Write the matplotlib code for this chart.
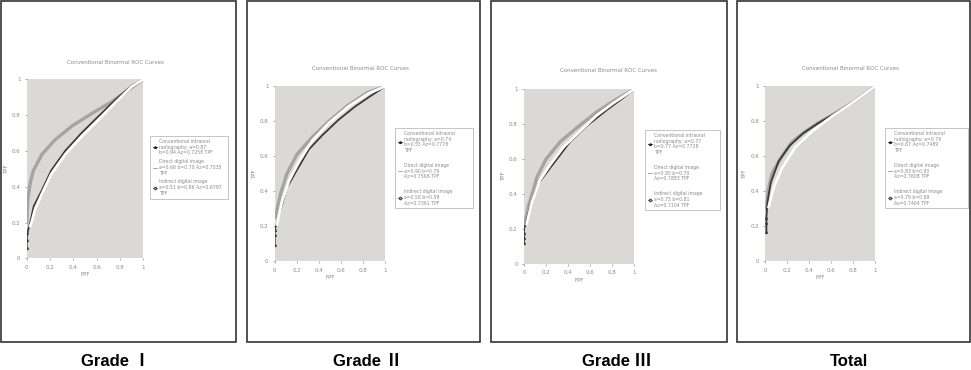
import numpy as np
import matplotlib
matplotlib.use("Agg")
import matplotlib.pyplot as plt
from matplotlib.patches import Rectangle

W, H = 971, 370

PANEL_NAMES = ["Grade Ⅰ", "Grade Ⅱ", "Grade Ⅲ", "Total"]

# legend texts
LEG_G1 = ["Conventional intraoral\nradiography: a=0.87\nb=0.94 Az=0.7258 TPF",
          "Direct digital image\na=0.66 b=0.70 Az=0.7535\nTPF",
          "Indirect digital image\na=0.51 b=0.86 Az=0.6797\nTPF"]
LEG_G2 = ["Conventional intraoral\nradiography: a=0.74\nb=0.55 Az=0.7778\nTPF",
          "Direct digital image\na=0.90 b=0.79\nAz=0.7568 TPF",
          "Indirect digital image\na=0.58 b=0.59\nAz=0.7361 TPF"]
LEG_G3 = ["Conventional intraoral\nradiography: a=0.77\nb=0.77 Az=0.7728\nTPF",
          "Direct digital image\na=0.80 b=0.70\nAz=0.7883 TPF",
          "Indirect digital image\na=0.75 b=0.81\nAz=0.7104 TPF"]
LEG_T = ["Conventional intraoral\nradiography: a=0.79\nb=0.67 Az=0.7489\nTPF",
         "Direct digital image\na=0.83 b=0.80\nAz=0.7608 TPF",
         "Indirect digital image\na=0.79 b=0.69\nAz=0.7464 TPF"]

# curve points (FPF, TPF)
G1_CONV_X = [0.0, 0.0, 0.005, 0.03, 0.06, 0.13, 0.21, 0.33, 0.47, 0.61, 0.76, 0.90, 1.0]
G1_CONV_Y = [0.06, 0.10, 0.14, 0.20, 0.29, 0.38, 0.49, 0.60, 0.70, 0.79, 0.885, 0.965, 1.0]
G1_DIR_X = [0.0, 0.01, 0.03, 0.057, 0.13, 0.24, 0.39, 0.56, 0.73, 0.87, 1.0]
G1_DIR_Y = [0.20, 0.33, 0.42, 0.49, 0.58, 0.66, 0.74, 0.81, 0.875, 0.94, 1.0]
G1_IND_X = [0.03, 0.043, 0.07, 0.13, 0.21, 0.33, 0.47, 0.61, 0.76, 0.90, 1.0]
G1_IND_Y = [0.18, 0.205, 0.27, 0.36, 0.47, 0.58, 0.68, 0.77, 0.87, 0.96, 1.0]

G2_CONV_X = [0.0, 0.0, 0.0, 0.02, 0.06, 0.11, 0.19, 0.31, 0.43, 0.58, 0.73, 0.88, 1.0]
G2_CONV_Y = [0.095, 0.15, 0.18, 0.22, 0.31, 0.42, 0.51, 0.64, 0.72, 0.81, 0.886, 0.95, 1.0]
G2_DIR_X = [0.006, 0.05, 0.11, 0.20, 0.34, 0.49, 0.66, 0.84, 1.0]
G2_DIR_Y = [0.25, 0.38, 0.50, 0.61, 0.71, 0.80, 0.89, 0.965, 1.0]
G2_IND_X = [0.02, 0.066, 0.13, 0.22, 0.34, 0.49, 0.67, 0.85, 1.0]
G2_IND_Y = [0.21, 0.34, 0.46, 0.57, 0.69, 0.79, 0.886, 0.96, 1.0]

G3_CONV_X = [0.0, 0.0, 0.0, 0.0, 0.02, 0.06, 0.13, 0.25, 0.42, 0.57, 0.75, 0.90, 1.0]
G3_CONV_Y = [0.12, 0.15, 0.18, 0.20, 0.24, 0.34, 0.46, 0.56, 0.70, 0.79, 0.88, 0.95, 1.0]
G3_DIR_X = [0.01, 0.04, 0.12, 0.20, 0.33, 0.48, 0.66, 0.83, 1.0]
G3_DIR_Y = [0.24, 0.33, 0.50, 0.60, 0.70, 0.78, 0.87, 0.94, 1.0]
G3_IND_X = [0.024, 0.07, 0.145, 0.24, 0.36, 0.51, 0.66, 0.81, 1.0]
G3_IND_Y = [0.23, 0.35, 0.48, 0.57, 0.67, 0.76, 0.85, 0.92, 1.0]

T_CONV_X = [0.01, 0.01, 0.01, 0.02, 0.05, 0.12, 0.22, 0.34, 0.47, 0.62, 0.80, 1.0]
T_CONV_Y = [0.17, 0.22, 0.25, 0.34, 0.45, 0.57, 0.66, 0.73, 0.785, 0.84, 0.91, 1.0]
T_DIR_X = [0.01, 0.024, 0.06, 0.14, 0.24, 0.36, 0.48, 0.62, 0.80, 1.0]
T_DIR_Y = [0.30, 0.40, 0.50, 0.59, 0.68, 0.74, 0.79, 0.84, 0.91, 1.0]
T_IND_X = [0.03, 0.076, 0.15, 0.27, 0.42, 0.61, 0.79, 1.0]
T_IND_Y = [0.31, 0.42, 0.53, 0.65, 0.74, 0.83, 0.905, 1.0]

PANELS = [
    (LEG_G1, (G1_CONV_X, G1_CONV_Y), (G1_DIR_X, G1_DIR_Y), (G1_IND_X, G1_IND_Y)),
    (LEG_G2, (G2_CONV_X, G2_CONV_Y), (G2_DIR_X, G2_DIR_Y), (G2_IND_X, G2_IND_Y)),
    (LEG_G3, (G3_CONV_X, G3_CONV_Y), (G3_DIR_X, G3_DIR_Y), (G3_IND_X, G3_IND_Y)),
    (LEG_T, (T_CONV_X, T_CONV_Y), (T_DIR_X, T_DIR_Y), (T_IND_X, T_IND_Y)),
]

# layout in pixels: frame, axes, legend box, title, caption
FRAMES = [(1, 1, 236, 342), (247, 1, 480, 342), (491, 1, 727, 342), (737, 1, 970, 342)]
AXES = [(26.7, 79.3, 143.3, 258.3), (274.7, 86.3, 385.3, 261.3),
        (524, 89.3, 634, 264), (765.3, 86.3, 875.3, 261.3)]
LEGS = [(150, 136, 228, 200), (395, 128, 473, 218), (645, 130, 720, 222), (885, 128, 968, 218)]
LEG_SPACING = [0.8, 2.1, 2.1, 2.1]
TITLES = [(115, 62), (360, 68), (608, 71), (850, 68)]
CAPTIONS = [(116, 362), (368, 362), (617, 362), (849, 362)]

BG = "#dbd9d5"
TXT = "#8a8a8a"


def fx(px):
    return px / W


def fy(py):
    return 1 - py / H


fig = plt.figure(figsize=(W / 100, H / 100), dpi=100)

for i, (legs, conv, dire, ind) in enumerate(PANELS):
    x0, y0, x1, y1 = FRAMES[i]
    fig.patches.append(Rectangle((fx(x0), fy(y1)), fx(x1 - x0), (y1 - y0) / H,
                                 transform=fig.transFigure, fill=False,
                                 edgecolor="#333333", linewidth=1.2))

    ax0, ay0, ax1, ay1 = AXES[i]
    ax = fig.add_axes([fx(ax0), fy(ay1), fx(ax1 - ax0), (ay1 - ay0) / H])
    ax.set_facecolor(BG)
    ax.plot(dire[0], dire[1], color="#a4a4a4", lw=2.4, label=legs[1])
    ax.plot(conv[0], conv[1], color="#3a3a3a", lw=1.3, marker="^", ms=1.3,
            markevery=[0, 1, 2], label=legs[0])
    ax.plot(ind[0], ind[1], color="white", lw=1.9, label=legs[2])
    ax.set_xlim(0, 1)
    ax.set_ylim(0, 1)
    ax.set_xticks(np.arange(0, 1.01, 0.2))
    ax.set_yticks(np.arange(0, 1.01, 0.2))
    ax.set_xticklabels(["0", "0.2", "0.4", "0.6", "0.8", "1"])
    ax.set_yticklabels(["0", "0.2", "0.4", "0.6", "0.8", "1"])
    ax.tick_params(labelsize=4, colors=TXT, length=1.5, width=0.5, pad=3)
    for s in ax.spines.values():
        s.set_visible(False)
    ax.set_xlabel("FPF", fontsize=4, color=TXT, labelpad=2)
    ax.set_ylabel("TPF", fontsize=4, color=TXT, labelpad=2)

    # legend order: conventional, direct, indirect
    h, l = ax.get_legend_handles_labels()
    order = [1, 0, 2]
    lx0, ly0, lx1, ly1 = LEGS[i]
    leg = ax.legend([h[k] for k in order], [l[k] for k in order],
                    loc="upper left",
                    bbox_to_anchor=(fx(lx0), fy(ly1), fx(lx1 - lx0), (ly1 - ly0) / H),
                    bbox_transform=fig.transFigure, mode="expand",
                    fontsize=3.3, labelcolor=TXT, frameon=True, fancybox=False,
                    edgecolor="#aaaaaa", handlelength=1.0, handletextpad=0.3,
                    labelspacing=LEG_SPACING[i], borderpad=0.6, borderaxespad=0)
    leg.get_frame().set_linewidth(0.6)
    for hd in leg.legend_handles:
        hd.set_linewidth(0.6)
    leg.legend_handles[0].set_color("#222222")
    leg.legend_handles[1].set_color("#999999")
    leg.legend_handles[2].set_color("#555555")
    leg.legend_handles[2].set_marker("o")
    leg.legend_handles[2].set_markersize(1.6)
    leg.legend_handles[2].set_markerfacecolor("white")

    tx, ty = TITLES[i]
    fig.text(fx(tx), fy(ty), "Conventional Binormal ROC Curves", fontsize=4,
             color=TXT, ha="center", va="center")

    cx, cy = CAPTIONS[i]
    fig.text(fx(cx), fy(cy), PANEL_NAMES[i], fontsize=12, fontweight="bold",
             family=["Liberation Sans", "Noto Sans CJK KR", "DejaVu Sans"],
             ha="center", va="center", color="black")

fig.savefig("out.png", dpi=100)
